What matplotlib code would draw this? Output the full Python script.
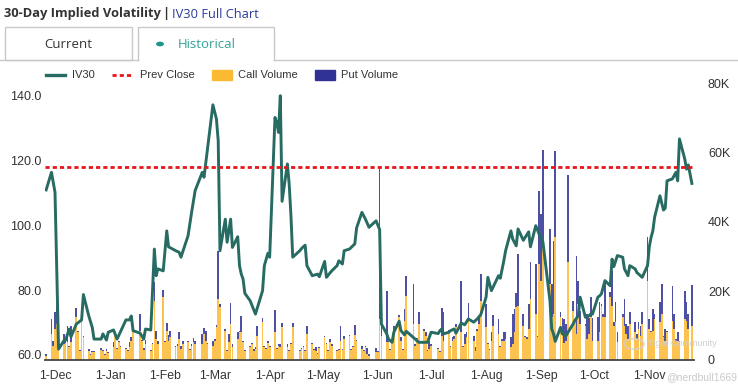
import matplotlib
matplotlib.use('Agg')
import matplotlib.pyplot as plt
import matplotlib.dates as mdates
from matplotlib.lines import Line2D
from matplotlib.patches import Rectangle, Circle
import pandas as pd

plt.rcParams['font.family'] = ['Liberation Sans', 'DejaVu Sans']
plt.rcParams['lines.scale_dashes'] = False

# ---------------- data ----------------
iv_dates = [
    '2021-11-26', '2021-11-29', '2021-12-01', '2021-12-03', '2021-12-06', '2021-12-07', '2021-12-09',
    '2021-12-10', '2021-12-13', '2021-12-16', '2021-12-17', '2021-12-20', '2021-12-22', '2021-12-23',
    '2021-12-27', '2021-12-28', '2021-12-30', '2021-12-31', '2022-01-03', '2022-01-05', '2022-01-10',
    '2022-01-12', '2022-01-13', '2022-01-14', '2022-01-18', '2022-01-20', '2022-01-21', '2022-01-24',
    '2022-01-26', '2022-01-27', '2022-01-28', '2022-01-31', '2022-02-02', '2022-02-03', '2022-02-07',
    '2022-02-09', '2022-02-10', '2022-02-14', '2022-02-16', '2022-02-18', '2022-02-22', '2022-02-23',
    '2022-02-28', '2022-03-02', '2022-03-03', '2022-03-04', '2022-03-07', '2022-03-08', '2022-03-10',
    '2022-03-11', '2022-03-14', '2022-03-15', '2022-03-16', '2022-03-17', '2022-03-18', '2022-03-21',
    '2022-03-24', '2022-03-28', '2022-03-29', '2022-03-31', '2022-04-01', '2022-04-04', '2022-04-05',
    '2022-04-06', '2022-04-07', '2022-04-08', '2022-04-11', '2022-04-12', '2022-04-13', '2022-04-14',
    '2022-04-18', '2022-04-19', '2022-04-21', '2022-04-22', '2022-04-25', '2022-04-28', '2022-04-29',
    '2022-05-02', '2022-05-03', '2022-05-06', '2022-05-09', '2022-05-10', '2022-05-12', '2022-05-13',
    '2022-05-16', '2022-05-19', '2022-05-20', '2022-05-23', '2022-05-25', '2022-05-27', '2022-05-31',
    '2022-06-02', '2022-06-03', '2022-06-06', '2022-06-07', '2022-06-09', '2022-06-10', '2022-06-13',
    '2022-06-14', '2022-06-16', '2022-06-17', '2022-06-21', '2022-06-24', '2022-06-29', '2022-07-01',
    '2022-07-05', '2022-07-06', '2022-07-07', '2022-07-08', '2022-07-11', '2022-07-12', '2022-07-14',
    '2022-07-15', '2022-07-18', '2022-07-20', '2022-07-22', '2022-07-25', '2022-07-27', '2022-07-29',
    '2022-08-01', '2022-08-02', '2022-08-04', '2022-08-08', '2022-08-09', '2022-08-11', '2022-08-12',
    '2022-08-15', '2022-08-16', '2022-08-18', '2022-08-19', '2022-08-22', '2022-08-25', '2022-08-26',
    '2022-08-29', '2022-09-01', '2022-09-02', '2022-09-06', '2022-09-07', '2022-09-08', '2022-09-09',
    '2022-09-12', '2022-09-13', '2022-09-14', '2022-09-15', '2022-09-19', '2022-09-20', '2022-09-22',
    '2022-09-23', '2022-09-26', '2022-09-27', '2022-09-29', '2022-09-30', '2022-10-03', '2022-10-04',
    '2022-10-05', '2022-10-07', '2022-10-10', '2022-10-11', '2022-10-12', '2022-10-14', '2022-10-17',
    '2022-10-18', '2022-10-20', '2022-10-21', '2022-10-24', '2022-10-25', '2022-10-28', '2022-10-31',
    '2022-11-01', '2022-11-02', '2022-11-03', '2022-11-04', '2022-11-07', '2022-11-09', '2022-11-10',
    '2022-11-11', '2022-11-14', '2022-11-16', '2022-11-17', '2022-11-18', '2022-11-21', '2022-11-22',
    '2022-11-23', '2022-11-25',
]
iv_values = [
    110.8, 116.2, 110.1, 61.8, 64.4, 64.6, 68.0,
    65.6, 69.5, 70.8, 78.6, 72.1, 68.5, 64.9,
    64.9, 66.5, 64.6, 67.0, 67.7, 64.9, 70.8,
    70.8, 72.0, 67.5, 66.7, 64.9, 68.0, 67.7,
    92.6, 84.4, 86.5, 85.9, 98.2, 93.3, 92.1,
    91.6, 90.1, 96.7, 103.9, 110.6, 116.2, 114.7,
    137.0, 132.6, 125.9, 92.1, 101.8, 94.7, 101.8,
    93.1, 96.4, 87.5, 84.9, 83.4, 79.0, 76.7,
    72.6, 79.8, 87.5, 91.3, 90.1, 133.1, 131.6,
    128.5, 139.8, 107.3, 118.8, 112.6, 102.9, 90.1,
    92.1, 92.8, 93.8, 87.5, 84.4, 84.9, 84.1,
    88.8, 83.9, 85.9, 87.5, 89.0, 88.0, 92.1,
    92.6, 94.2, 99.1, 103.9, 101.8, 99.3, 101.3,
    98.6, 69.5, 66.5, 64.9, 63.9, 67.0, 70.4,
    67.5, 66.2, 67.3, 65.4, 63.9, 63.9, 67.0,
    66.6, 67.5, 68.0, 66.5, 67.0, 67.5, 68.0,
    66.7, 69.8, 69.3, 71.1, 70.1, 71.1, 72.4,
    77.8, 83.9, 79.8, 84.4, 83.6, 89.0, 92.1,
    98.2, 95.7, 93.6, 98.8, 95.3, 97.9, 93.3,
    99.8, 95.7, 94.9, 76.7, 68.0, 66.5, 64.2,
    68.5, 66.5, 66.2, 65.9, 69.5, 70.6, 72.1,
    77.8, 71.6, 71.6, 72.6, 72.6, 77.8, 78.2,
    78.8, 82.9, 81.3, 89.5, 87.2, 90.6, 90.1,
    86.5, 84.4, 87.5, 86.5, 85.4, 83.9, 87.5,
    93.3, 96.2, 98.2, 102.4, 109.0, 104.6, 105.2,
    113.6, 114.2, 116.2, 113.6, 126.5, 120.3, 117.2,
    118.5, 112.8,
]
prev_close = 118.0

# daily option volume, thousands of contracts, per month (trading days in order)
call_k = {
    '2021-11': [1.2, 7.5, 4.0],
    '2021-12': [9.0, 10.4, 8.5, 4.6, 4.8, 5.1, 3.7, 5.1, 12.4, 8.0, 2.5, 13.3, 6.6, 2.7, 1.5, 2.2,
                2.2, 2.9, 2.5, 1.5, 2.7, 2.0],
    '2022-01': [3.7, 7.5, 3.2, 5.1, 3.7, 3.2, 2.5, 3.7, 5.6, 8.0, 8.5, 5.6, 3.0, 4.6, 2.7, 4.6,
                17.2, 6.1, 4.6, 18.2],
    '2022-02': [5.1, 8.5, 5.6, 6.6, 3.7, 4.0, 6.1, 3.2, 4.6, 5.1, 3.0, 4.0, 5.1, 4.6, 4.6, 7.5,
                5.6, 4.6, 4.2],
    '2022-03': [5.6, 9.5, 17.7, 15.3, 8.5, 2.7, 5.1, 10.4, 3.7, 6.1, 8.0, 8.0, 5.1, 2.7, 3.7, 4.6,
                2.7, 3.2, 7.0, 10.9, 3.7, 3.2, 5.0],
    '2022-04': [3.7, 8.0, 3.2, 4.0, 3.7, 9.5, 3.7, 2.7, 4.6, 9.5, 2.7, 3.2, 3.7, 2.5, 7.5, 4.6,
                3.0, 2.7, 1.7, 3.5],
    '2022-05': [6.6, 4.6, 2.7, 5.1, 4.2, 2.7, 3.0, 5.5, 3.0, 6.1, 7.0, 3.0, 3.7, 7.3, 5.6, 3.2,
                2.5, 3.7, 1.7, 1.3, 2.2],
    '2022-06': [2.2, 12.0, 7.0, 5.1, 5.1, 3.0, 5.1, 8.5, 12.4, 5.6, 3.0, 11.4, 18.6, 10.4, 4.2,
                6.1, 10.4, 8.5, 7.0, 2.7, 3.2],
    '2022-07': [4.2, 3.2, 2.2, 7.0, 5.6, 8.5, 3.7, 5.6, 6.1, 9.5, 8.0, 3.7, 4.6, 6.6, 11.4, 5.6,
                2.7, 8.5, 10.4, 17.2],
    '2022-08': [9.5, 4.6, 3.0, 5.6, 10.0, 7.5, 3.7, 5.6, 5.6, 6.1, 3.7, 4.6, 8.0, 15.3, 15.7,
                10.0, 6.6, 6.1, 9.0, 17.7, 13.3, 6.6, 27.8],
    '2022-09': [23.0, 34.6, 22.0, 12.4, 13.3, 35.6, 12.4, 7.5, 4.8, 5.6, 28.3, 14.3, 10.9, 7.5,
                16.2, 10.4, 10.0, 6.1, 7.5, 12.4, 5.6],
    '2022-10': [5.6, 8.0, 15.7, 12.4, 12.4, 18.2, 15.7, 10.0, 10.9, 5.1, 12.4, 10.0, 7.5, 6.1,
                10.4, 8.0, 6.0, 9.0, 7.0, 10.4, 23.0],
    '2022-11': [9.0, 8.0, 8.5, 11.9, 10.9, 13.3, 6.6, 5.6, 8.0, 11.4, 9.0, 5.6, 5.6, 5.1, 11.9,
                11.4, 9.0, 10.0],
}
put_k = {
    '2021-11': [0.6, 4.4, 1.5],
    '2021-12': [5.0, 5.6, 6.3, 2.9, 0.6, 4.9, 0.5, 4.9, 2.6, 0.5, 0.5, 0.5, 0.5, 0.5, 0.3, 0.3,
                0.3, 0.6, 0.5, 0.3, 0.5, 0.4],
    '2022-01': [1.4, 0.5, 0.3, 0.5, 0.5, 0.3, 0.3, 1.4, 1.0, 0.3, 4.8, 0.3, 0.4, 1.2, 0.3, 0.4,
                5.3, 2.4, 1.0, 2.0],
    '2022-02': [0.5, 2.1, 1.7, 1.9, 0.3, 0.5, 1.9, 1.0, 1.0, 0.5, 0.3, 0.5, 1.4, 1.0, 2.9, 1.9,
                2.9, 0.4, 1.4],
    '2022-03': [0.5, 0.6, 14.0, 1.0, 0.5, 0.3, 2.4, 6.0, 1.0, 1.9, 0.5, 4.8, 0.5, 0.3, 0.3, 0.3,
                0.5, 0.5, 2.9, 1.4, 0.5, 0.3, 0.5],
    '2022-04': [0.3, 6.5, 0.3, 0.5, 1.0, 1.2, 1.0, 0.3, 0.3, 1.1, 0.3, 0.3, 0.5, 0.3, 2.4, 0.3,
                0.3, 1.0, 0.3, 0.3],
    '2022-05': [0.3, 0.3, 0.3, 1.0, 0.3, 0.3, 0.3, 4.4, 0.3, 1.0, 0.3, 0.3, 0.5, 2.9, 0.3, 1.0,
                0.3, 0.3, 1.9, 0.5, 1.4],
    '2022-06': [0.5, 43.4, 9.7, 15.0, 0.5, 0.3, 0.5, 1.5, 0.5, 1.0, 0.3, 3.4, 5.8, 11.6, 0.3,
                0.3, 3.4, 0.5, 1.0, 0.3, 2.4],
    '2022-07': [0.3, 0.3, 0.3, 8.0, 8.2, 0.3, 0.3, 1.0, 1.0, 1.0, 15.0, 0.3, 2.9, 1.4, 5.0, 1.4,
                1.0, 0.5, 2.0, 7.7],
    '2022-08': [6.8, 0.3, 0.3, 2.4, 2.9, 4.3, 0.3, 0.5, 2.4, 1.9, 2.9, 8.7, 6.8, 4.0, 15.0, 3.4,
                0.3, 0.5, 7.2, 10.6, 14.5, 0.5, 21.3],
    '2022-09': [19.3, 26.3, 16.0, 9.7, 21.3, 25.1, 1.4, 4.8, 7.0, 4.8, 25.4, 2.9, 0.5, 22.7, 6.8,
                3.9, 0.5, 7.2, 4.8, 5.8, 6.7],
    '2022-10': [6.8, 8.7, 0.5, 1.0, 10.1, 1.4, 10.0, 1.0, 5.8, 2.9, 1.0, 7.7, 2.9, 3.9, 3.4, 3.0,
                1.5, 2.0, 3.0, 3.4, 12.6],
    '2022-11': [2.9, 0.5, 6.3, 1.4, 5.8, 8.7, 0.5, 3.4, 0.5, 10.1, 4.4, 0.5, 2.4, 0.5, 8.2, 5.3,
                4.4, 11.6],
}
market_holidays = ['2021-12-24', '2022-01-17', '2022-02-21', '2022-04-15', '2022-05-30',
                   '2022-06-20', '2022-07-04', '2022-09-05', '2022-11-24']
month_ticks = pd.date_range('2021-12-01', '2022-11-01', freq='MS')

# ---------------- colours ----------------
C_IV = '#276b62'
C_PREV = '#e8161b'
C_CALL = '#fcb932'
C_PUT = '#2f3293'
C_TEXT = '#333333'

W, H = 738, 387
fig = plt.figure(figsize=(W / 100, H / 100), dpi=100)
fig.patch.set_facecolor('white')

def fx(x):
    return x / W

def fy(y):
    return 1 - y / H

# plot area (pixels): x 45..694, y 84..360
ax = fig.add_axes([fx(45), fy(360), (694 - 45) / W, (360 - 84) / H])
ax2 = ax.twinx()
ax.set_zorder(ax2.get_zorder() + 1)
ax.patch.set_visible(False)

# bars
tdays = pd.bdate_range('2021-11-26', '2022-11-25', freq='C', holidays=market_holidays)
bar_x, bar_c, bar_p = [], [], []
for m in call_k:
    days = tdays[tdays.strftime('%Y-%m') == m]
    n = min(len(days), len(call_k[m]), len(put_k[m]))
    bar_x += list(days[:n])
    bar_c += [v * 1000 for v in call_k[m][:n]]
    bar_p += [v * 1000 for v in put_k[m][:n]]
ax2.bar(bar_x, bar_c, width=0.95, color=C_CALL, linewidth=0, alpha=0.85)
ax2.bar(bar_x, bar_p, bottom=bar_c, width=0.95, color=C_PUT, linewidth=0, alpha=0.85)
ax2.set_ylim(0, 80000)
ax2.set_yticks([0, 20000, 40000, 60000, 80000])
ax2.set_yticklabels(['0', '20K', '40K', '60K', '80K'])

# IV line and previous close
ax.plot(pd.to_datetime(iv_dates), iv_values, color=C_IV, lw=2.1, solid_joinstyle='round', zorder=3)
ax.axhline(prev_close, color=C_PREV, lw=2.0, dashes=(3.0, 2.2), zorder=4)

ax.set_ylim(58.46, 143.4)
ax.set_yticks([60, 80, 100, 120, 140])
ax.set_yticklabels(['%.1f' % v for v in [60, 80, 100, 120, 140]])

d0 = mdates.date2num(pd.Timestamp('2021-12-01'))
ax.set_xlim(d0 - 5.64, d0 + 360.2)
ax.set_xticks(month_ticks)
ax.set_xticklabels(['1-' + d.strftime('%b') for d in month_ticks])

for a in (ax, ax2):
    for s in a.spines.values():
        s.set_visible(False)
ax.spines['bottom'].set_visible(True)
ax.spines['bottom'].set_color('#444444')
ax.spines['bottom'].set_linewidth(1.3)
ax.tick_params(axis='x', length=0, pad=7, labelsize=8.8, labelcolor=C_TEXT)
ax.tick_params(axis='y', length=0, pad=2.5, labelsize=9, labelcolor=C_TEXT)
ax2.tick_params(axis='y', length=0, pad=10, labelsize=9, labelcolor=C_TEXT)

# ---------------- legend ----------------
ly = 75
fig.add_artist(Line2D([fx(46), fx(65)], [fy(ly), fy(ly)], color=C_IV, lw=2.4))
fig.text(fx(72), fy(ly), 'IV30', fontsize=8, color=C_TEXT, va='center')
fig.add_artist(Line2D([fx(112), fx(133)], [fy(ly), fy(ly)], color=C_PREV, lw=2.0, dashes=(3.0, 2.2)))
fig.text(fx(140), fy(ly), 'Prev Close', fontsize=8, color=C_TEXT, va='center')
fig.add_artist(Rectangle((fx(212), fy(80)), fx(20), 10 / H, color=C_CALL, transform=fig.transFigure))
fig.text(fx(238), fy(ly), 'Call Volume', fontsize=8, color=C_TEXT, va='center')
fig.add_artist(Rectangle((fx(315), fy(80)), fx(20), 10 / H, color=C_PUT, transform=fig.transFigure))
fig.text(fx(341), fy(ly), 'Put Volume', fontsize=8, color=C_TEXT, va='center')

# ---------------- header & tabs ----------------
fig.text(fx(4), fy(14), '30-Day Implied Volatility', fontsize=9.3, weight='bold', color='#333333',
         va='center', family=['Open Sans', 'DejaVu Sans'])
fig.text(fx(162), fy(14), '|', fontsize=9.3, weight='bold', color='#333333', va='center',
         family=['Open Sans', 'DejaVu Sans'])
fig.text(fx(172), fy(14), 'IV30 Full Chart', fontsize=9.3, color='#2b3b9e', va='center',
         family=['Open Sans', 'DejaVu Sans'])

border = '#c9c9c9'
fig.add_artist(Line2D([0, fx(138)], [fy(60), fy(60)], color=border, lw=1))
fig.add_artist(Line2D([fx(274), 1], [fy(60), fy(60)], color=border, lw=1))
fig.add_artist(Rectangle((fx(5), fy(60)), fx(127), 33 / H, facecolor='white', edgecolor=border,
                         lw=1, transform=fig.transFigure))
fig.add_artist(Line2D([fx(138), fx(138), fx(274), fx(274)], [fy(60), fy(27), fy(27), fy(60)],
                      color=border, lw=1))
fig.text(fx(68), fy(44), 'Current', fontsize=9.5, color='#333333', ha='center', va='center',
         family=['Open Sans', 'DejaVu Sans'])
fig.add_artist(Circle((fx(160), fy(44)), 3.2 / W, color='#1a978a', transform=fig.transFigure))
fig.text(fx(178), fy(44), 'Historical', fontsize=9.5, color='#34a399', ha='left', va='center',
         family=['Open Sans', 'DejaVu Sans'])

# ---------------- watermark ----------------
fig.add_artist(Circle((fx(634), fy(344)), 10 / W, facecolor='none', edgecolor='#d0d0d0', lw=1.2,
                      transform=fig.transFigure, alpha=0.8))
fig.text(fx(648), fy(343), 'Tiger Community', fontsize=6.5, color='#cfcfcf', va='center')
fig.text(fx(737), fy(377), '@nerdbull1669', fontsize=7.5, color='#c4c4c4', va='center', ha='right',
         alpha=0.9)

fig.savefig('out.png', dpi=100, facecolor='white')
